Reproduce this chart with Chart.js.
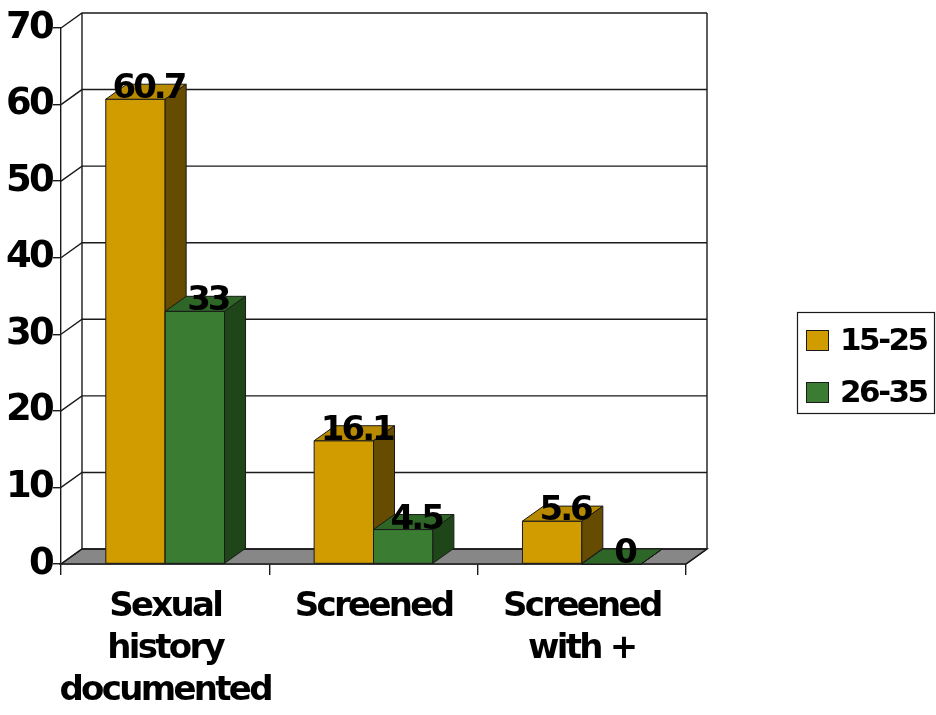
<!DOCTYPE html>
<html>
<head>
<meta charset="utf-8">
<script src="https://cdn.jsdelivr.net/npm/chart.js@4.4.1/dist/chart.umd.min.js"></script>
<style>
  html, body { margin: 0; padding: 0; background: #fff; }
  #wrap { width: 936px; height: 715px; position: relative; }
</style>
</head>
<body>
<div id="wrap"><canvas id="screening-chart"></canvas></div>
<script>
'use strict';

var categories = [
    ['Sexual', 'history', 'documented'],
    ['Screened'],
    ['Screened', 'with +'],
];
var seriesNames = ['15-25', '26-35'];
var dataYoung = [60.7, 16.1, 5.6];
var dataOlder = [33, 4.5, 0];
var yTicks = [0, 10, 20, 30, 40, 50, 60, 70];

// depth of the 3d box (walls and columns)
var DX = 21;
var DY = -15;

var faceColors = [
    { front: '#D09C00', top: '#B88A00', side: '#664C00' },
    { front: '#3A7D32', top: '#2E6628', side: '#1E4619' },
];

function poly(ctx, pts, fill) {
    ctx.beginPath();
    ctx.moveTo(pts[0][0], pts[0][1]);
    for (var i = 1; i < pts.length; i++) {
        ctx.lineTo(pts[i][0], pts[i][1]);
    }
    ctx.closePath();
    if (fill) {
        ctx.fillStyle = fill;
        ctx.fill();
    }
    ctx.stroke();
}

function drawColumn(ctx, x0, x1, yTop, yBase, c) {
    poly(ctx, [[x0, yBase], [x1, yBase], [x1, yTop], [x0, yTop]], c.front);
    poly(ctx, [[x0, yTop], [x1, yTop], [x1 + DX, yTop + DY], [x0 + DX, yTop + DY]], c.top);
    poly(ctx, [[x1, yBase], [x1, yTop], [x1 + DX, yTop + DY], [x1 + DX, yBase + DY]], c.side);
}

var box3d = {
    id: 'box3d',
    beforeDraw: function (chart) {
        chart.ctx.letterSpacing = '-2.7px';
    },
    beforeDatasetsDraw: function (chart) {
        var ctx = chart.ctx;
        var area = chart.chartArea;
        var yScale = chart.scales.y;
        var left = area.left, right = area.right;
        var base = yScale.getPixelForValue(0);
        var topY = yScale.getPixelForValue(yTicks[yTicks.length - 1]);

        ctx.save();
        ctx.strokeStyle = '#1a1a1a';
        ctx.lineWidth = 1.4;

        // floor
        poly(ctx, [[left, base], [right, base], [right + DX, base + DY], [left + DX, base + DY]], '#878787');

        // back wall grid lines and their run along the side wall
        yTicks.forEach(function (v) {
            var y = yScale.getPixelForValue(v);
            ctx.beginPath();
            ctx.moveTo(left, y);
            ctx.lineTo(left + DX, y + DY);
            ctx.lineTo(right + DX, y + DY);
            ctx.stroke();
        });
        ctx.beginPath();
        ctx.moveTo(left + DX, topY + DY);
        ctx.lineTo(left + DX, base + DY);
        ctx.moveTo(right + DX, topY + DY);
        ctx.lineTo(right + DX, base + DY);
        ctx.moveTo(right, base);
        ctx.lineTo(right + DX, base + DY);
        ctx.stroke();

        // columns, category by category so each one hides the side of its neighbour
        ctx.lineWidth = 1;
        var metas = chart.data.datasets.map(function (d, i) { return chart.getDatasetMeta(i); });
        for (var i = 0; i < chart.data.labels.length; i++) {
            metas.forEach(function (meta, d) {
                var bar = meta.data[i];
                var half = bar.width / 2;
                drawColumn(ctx, bar.x - half, bar.x + half, bar.y, bar.base, faceColors[d]);
            });
        }

        // value labels
        ctx.fillStyle = '#000';
        ctx.font = 'bold 34px "DejaVu Sans"';
        ctx.letterSpacing = '-3px';
        ctx.textAlign = 'center';
        ctx.textBaseline = 'alphabetic';
        metas.forEach(function (meta, d) {
            meta.data.forEach(function (bar, i) {
                var v = chart.data.datasets[d].data[i];
                ctx.fillText(String(v), bar.x + 13, bar.y - 1);
            });
        });
        ctx.restore();
        return false;
    },
    afterDraw: function (chart) {
        var ctx = chart.ctx;
        ctx.save();
        ctx.strokeStyle = '#1a1a1a';
        ctx.lineWidth = 1.2;
        ctx.strokeRect(797.5, 312.5, 137, 101);
        ctx.font = 'bold 31px "DejaVu Sans"';
        ctx.letterSpacing = '-2.5px';
        ctx.textAlign = 'left';
        ctx.textBaseline = 'middle';
        chart.data.datasets.forEach(function (ds, d) {
            var cy = 340 + d * 52;
            ctx.fillStyle = ds.backgroundColor;
            ctx.fillRect(806, cy - 10, 22, 21);
            ctx.lineWidth = 1;
            ctx.strokeRect(806.5, cy - 9.5, 22, 20);
            ctx.fillStyle = '#000';
            ctx.fillText(ds.label, 840, cy + 2);
        });
        ctx.restore();
    },
};

new Chart(document.getElementById('screening-chart'), {
    type: 'bar',
    data: {
        labels: categories,
        datasets: [
            { label: seriesNames[0], data: dataYoung, backgroundColor: faceColors[0].front },
            { label: seriesNames[1], data: dataOlder, backgroundColor: faceColors[1].front },
        ],
    },
    options: {
        responsive: true,
        maintainAspectRatio: false,
        animation: false,
        layout: { padding: { left: 0, top: 28, right: 250, bottom: 0 } },
        datasets: {
            bar: { categoryPercentage: 0.57, barPercentage: 1.0 },
        },
        scales: {
            x: {
                offset: true,
                grid: {
                    offset: true,
                    drawOnChartArea: false,
                    tickLength: 11,
                    color: '#1a1a1a',
                    lineWidth: 1.4,
                },
                border: { display: true, color: '#1a1a1a', width: 1.4 },
                ticks: {
                    autoSkip: false,
                    color: '#000',
                    padding: 11,
                    maxRotation: 0,
                    minRotation: 0,
                    font: { family: 'DejaVu Sans', size: 34, weight: 'bold', lineHeight: 1.24 },
                },
                afterFit: function (scale) { scale.height = 151; },
            },
            y: {
                min: 0,
                max: 70,
                grid: {
                    drawOnChartArea: false,
                    tickLength: 8,
                    color: '#1a1a1a',
                    lineWidth: 1.4,
                },
                border: { display: true, color: '#1a1a1a', width: 1.4 },
                ticks: {
                    stepSize: 10,
                    color: '#000',
                    padding: 1,
                    font: { family: 'DejaVu Sans', size: 37, weight: 'bold' },
                },
                afterFit: function (scale) { scale.width = 61; },
            },
        },
        plugins: {
            legend: { display: false },
            tooltip: { enabled: false },
        },
    },
    plugins: [box3d],
});
</script>
</body>
</html>
